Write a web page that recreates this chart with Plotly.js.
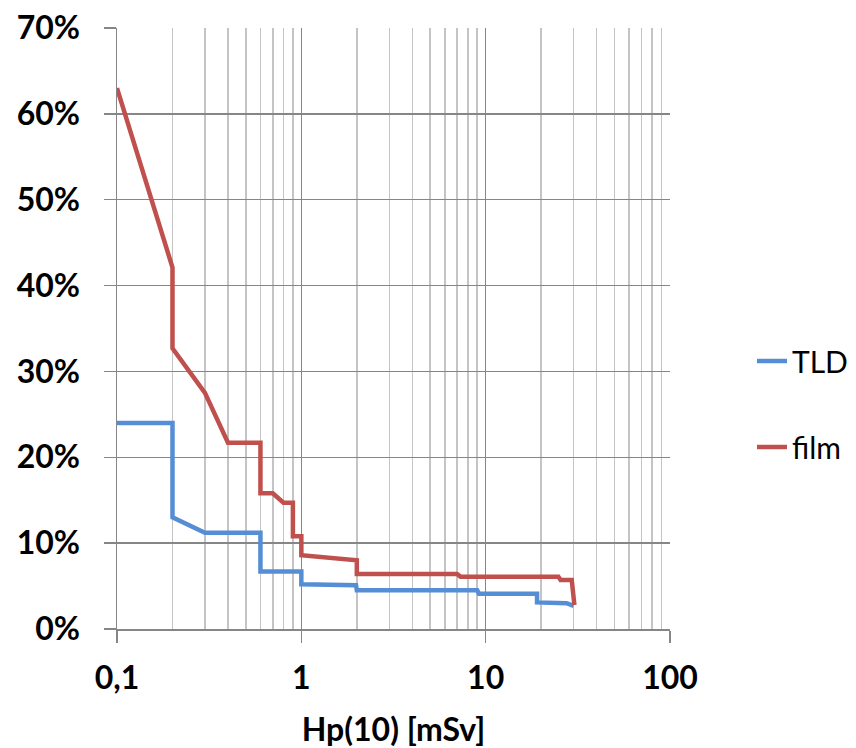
<!DOCTYPE html>
<html>
<head>
<meta charset="utf-8">
<script src="https://cdn.plot.ly/plotly-3.0.1.min.js"></script>
<style>html,body{margin:0;padding:0;background:#fff;}#chart{width:856px;height:748px;}</style>
</head>
<body>
<div id="chart"></div>
<script>
// Hp(10) [mSv] values and relative values (fractions)
const tldX  = [0.1, 0.2, 0.2, 0.3, 0.6, 0.6, 1.0, 1.0, 1.98, 2, 9, 9.2, 19, 19, 27.5, 30];
const tldY  = [0.24, 0.24, 0.130, 0.112, 0.112, 0.067, 0.067, 0.052, 0.051, 0.045, 0.045, 0.041, 0.041, 0.031, 0.030, 0.027];
const filmX = [0.1, 0.2, 0.2, 0.3, 0.4, 0.6, 0.6, 0.7, 0.8, 0.9, 0.9, 1.0, 1.0, 2, 2, 7, 7.3, 24.8, 25.5, 29.3, 30.3];
const filmY = [0.63, 0.421, 0.327, 0.275, 0.217, 0.217, 0.158, 0.158, 0.147, 0.147, 0.108, 0.108, 0.086, 0.080, 0.064, 0.064, 0.061, 0.061, 0.057, 0.057, 0.028];
const seriesNames = ['TLD', 'film'];
const xTickVals = [0.1, 1, 10, 100];
const xTickText = ['0,1', '1', '10', '100'];
const yTickVals = [0, 0.1, 0.2, 0.3, 0.4, 0.5, 0.6, 0.7];
const yTickText = ['0%', '10%', '20%', '30%', '40%', '50%', '60%', '70%'];

const minorVals = [];
for (const d of [0.1, 1, 10]) for (let k = 2; k <= 9; k++) minorVals.push(+(d * k).toPrecision(3));

const W = 856, H = 748, L = 117, R = 670, T = 28, B = 629;

const traces = [
  {x: tldX, y: tldY, name: seriesNames[0], type: 'scatter', mode: 'lines',
   line: {color: '#558ED5', width: 4.5}, legend: 'legend'},
  {x: filmX, y: filmY, name: seriesNames[1], type: 'scatter', mode: 'lines',
   line: {color: '#C0504D', width: 4.5}, legend: 'legend2'}
];

const tickFont = {family: 'Lato, sans-serif', size: 32, color: '#000', weight: 'bold'};
const legFont = {family: 'Lato, sans-serif', size: 30, color: '#000'};

const layout = {
  width: W, height: H,
  margin: {l: L, r: W - R, t: T, b: H - B, autoexpand: false},
  paper_bgcolor: '#fff', plot_bgcolor: '#fff',
  font: {family: 'Lato, sans-serif'},
  xaxis: {
    type: 'log', range: [-1, 2], automargin: false,
    tickmode: 'array', tickvals: xTickVals, ticktext: xTickText,
    tickfont: tickFont, ticks: 'outside', ticklen: 12, tickwidth: 1.5, tickcolor: '#868686',
    ticklabelstandoff: 8,
    showgrid: true, gridcolor: '#868686', gridwidth: 1.5,
    minor: {tickmode: 'array', tickvals: minorVals, showgrid: true, gridcolor: '#C4C4C4', gridwidth: 1.5, ticks: ''},
    showline: true, linecolor: '#868686', linewidth: 1.5, zeroline: false,
    title: {text: '<b>Hp(10) [mSv]</b>', font: {family: 'Lato, sans-serif', size: 32, color: '#000'}, standoff: 25}
  },
  yaxis: {
    range: [0, 0.7], automargin: false,
    tickmode: 'array', tickvals: yTickVals, ticktext: yTickText,
    tickfont: tickFont, ticks: 'outside', ticklen: 12, tickwidth: 1.5, tickcolor: '#868686',
    ticklabelstandoff: 17,
    showgrid: true, gridcolor: '#868686', gridwidth: 1.5,
    showline: true, linecolor: '#868686', linewidth: 1.5, zeroline: false
  },
  legend: {xref: 'container', yref: 'container', x: 752 / W, xanchor: 'left', y: 1 - 361 / H, yanchor: 'middle', font: legFont, bgcolor: 'rgba(0,0,0,0)'},
  legend2: {xref: 'container', yref: 'container', x: 752 / W, xanchor: 'left', y: 1 - 447 / H, yanchor: 'middle', font: legFont, bgcolor: 'rgba(0,0,0,0)'},
  showlegend: true
};

Plotly.newPlot('chart', traces, layout, {staticPlot: true, displayModeBar: false});
</script>
</body>
</html>
